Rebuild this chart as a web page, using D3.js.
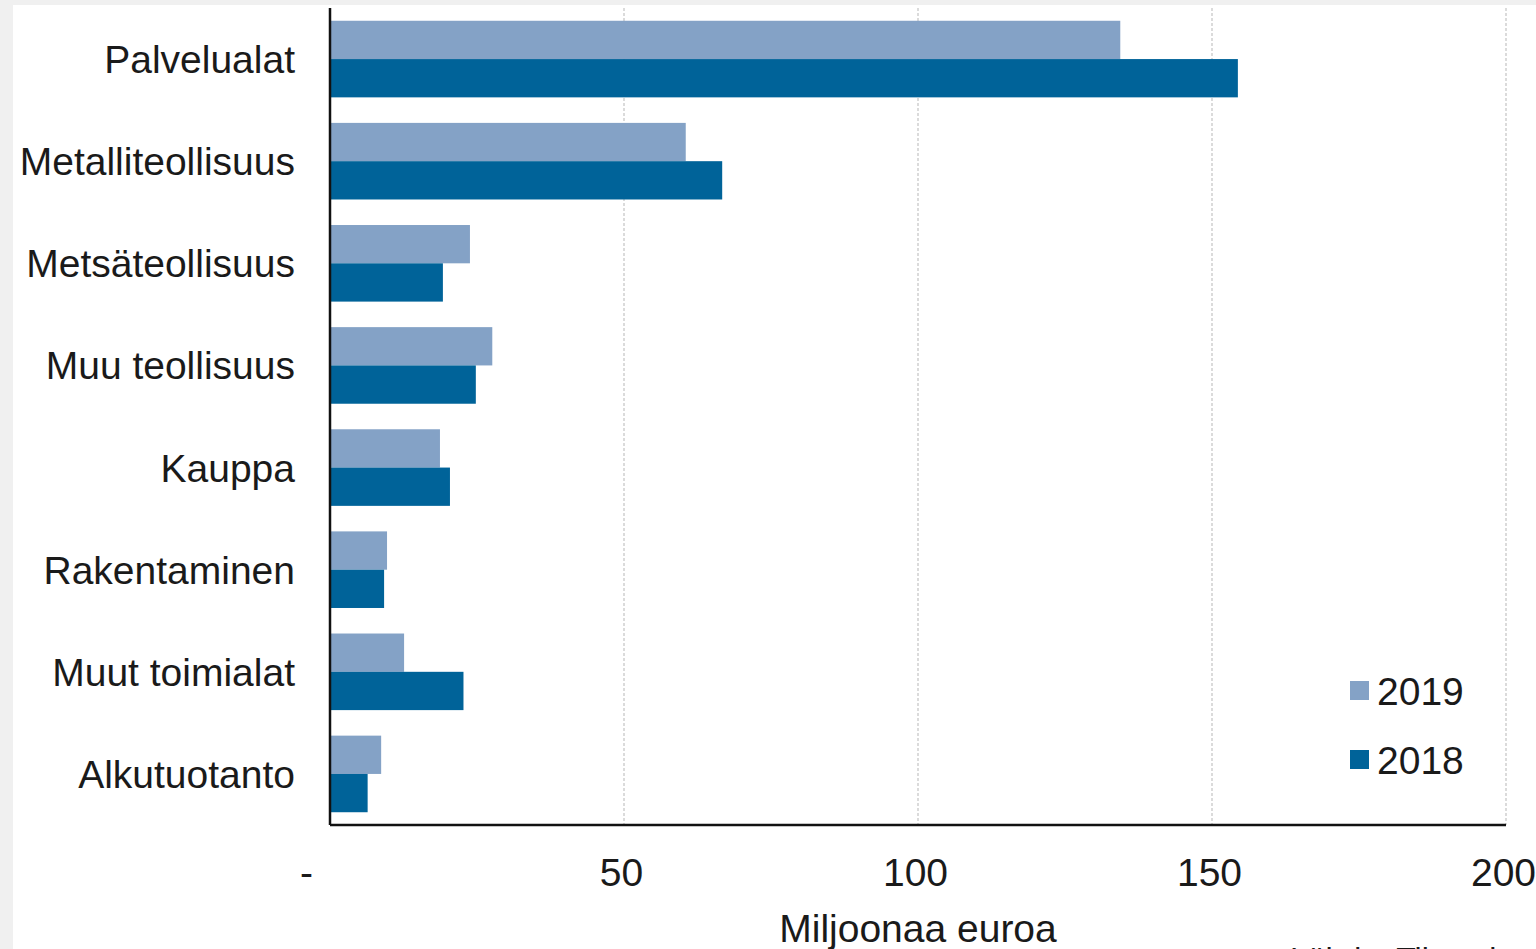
<!DOCTYPE html>
<html>
<head>
<meta charset="utf-8">
<script src="https://cdn.jsdelivr.net/npm/d3@7"></script>
<style>
	body { margin: 0; background: #f0f0f0; }
	svg { display: block; font-family: 'Liberation Sans', Arial, sans-serif; }
</style>
</head>
<body>
<svg width="1536" height="949"></svg>
<script>
// data
let categories = ['Palvelualat', 'Metalliteollisuus', 'Metsäteollisuus', 'Muu teollisuus',
	'Kauppa', 'Rakentaminen', 'Muut toimialat', 'Alkutuotanto'];
let values2019 = [134.4, 60.5, 23.8, 27.6, 18.7, 9.7, 12.6, 8.7];
let values2018 = [154.4, 66.7, 19.2, 24.8, 20.4, 9.2, 22.7, 6.4];
let seriesNames = ['2019', '2018'];
let xTicks = [0, 50, 100, 150, 200];

let colors = { '2019': '#84a2c6', '2018': '#006399' };

let svg = d3.select('svg');

// white panel
svg.append('rect')
	.attr('x', 13)
	.attr('y', 5)
	.attr('width', 1536 - 13)
	.attr('height', 949 - 5)
	.attr('fill', '#fff');

let plotLeft = 330, plotRight = 1506, plotTop = 8, plotBottom = 825;

let x = d3.scaleLinear()
	.domain([0, 200])
	.range([plotLeft, plotRight]);

let y = d3.scaleBand()
	.domain(categories)
	.range([plotTop, plotBottom])
	.paddingInner(0.25)
	.paddingOuter(0.125);

let ySub = d3.scaleBand()
	.domain(seriesNames)
	.range([0, y.bandwidth()]);

// gridlines
svg.append('g')
	.selectAll('line')
	.data(xTicks.slice(1))
	.enter()
	.append('line')
	.attr('x1', d => x(d))
	.attr('x2', d => x(d))
	.attr('y1', plotTop)
	.attr('y2', plotBottom)
	.attr('stroke', '#cfcfcf')
	.attr('stroke-width', 1.5)
	.attr('stroke-dasharray', '3,2');

// bars
let rows = categories.map((c, i) => ({ cat: c, '2019': values2019[i], '2018': values2018[i] }));

let groups = svg.append('g')
	.selectAll('g')
	.data(rows)
	.enter()
	.append('g')
	.attr('transform', d => 'translate(0,' + y(d.cat) + ')');

groups.selectAll('rect')
	.data(d => seriesNames.map(s => ({ s: s, v: d[s] })))
	.enter()
	.append('rect')
	.attr('x', x(0))
	.attr('y', d => ySub(d.s))
	.attr('width', d => x(d.v) - x(0))
	.attr('height', ySub.bandwidth())
	.attr('fill', d => colors[d.s]);

// x axis
let xAxis = d3.axisBottom(x)
	.tickValues(xTicks)
	.tickSize(0)
	.tickPadding(0)
	.tickFormat(d => d === 0 ? '-' : d);

let gx = svg.append('g')
	.attr('transform', 'translate(0,' + plotBottom + ')')
	.call(xAxis);

gx.select('.domain').remove();
gx.selectAll('text')
	.attr('y', 61)
	.attr('dy', 0)
	.attr('dx', d => d === 0 ? -24 : -3)
	.style('font-size', '39px')
	.style('fill', '#1a1a1a');

// y axis labels
let yAxis = d3.axisLeft(y)
	.tickSize(0)
	.tickPadding(35);

let gy = svg.append('g')
	.attr('transform', 'translate(' + plotLeft + ',0)')
	.call(yAxis);

gy.select('.domain').remove();
gy.selectAll('text')
	.attr('dy', '0.36em')
	.style('font-size', '39px')
	.style('fill', '#1a1a1a');

// axis lines
svg.append('line')
	.attr('x1', plotLeft)
	.attr('x2', plotLeft)
	.attr('y1', plotTop)
	.attr('y2', plotBottom)
	.attr('stroke', '#111')
	.attr('stroke-width', 2.5);

svg.append('line')
	.attr('x1', plotLeft)
	.attr('x2', plotRight)
	.attr('y1', plotBottom)
	.attr('y2', plotBottom)
	.attr('stroke', '#111')
	.attr('stroke-width', 2.5);

// axis title
svg.append('text')
	.attr('x', (plotLeft + plotRight) / 2)
	.attr('y', 942)
	.attr('text-anchor', 'middle')
	.style('font-size', '39px')
	.style('fill', '#1a1a1a')
	.text('Miljoonaa euroa');

// legend
let legend = svg.append('g')
	.selectAll('g')
	.data(seriesNames)
	.enter()
	.append('g')
	.attr('transform', (d, i) => 'translate(1350,' + (691 + i * 69) + ')');

legend.append('rect')
	.attr('x', 0)
	.attr('y', -10)
	.attr('width', 19)
	.attr('height', 19)
	.attr('fill', d => colors[d]);

legend.append('text')
	.attr('x', 27)
	.attr('y', 0)
	.attr('dy', '0.36em')
	.style('font-size', '39px')
	.style('fill', '#1a1a1a')
	.text(d => d);

// source note, cut off at the bottom edge as in the original
svg.append('text')
	.attr('x', 1290)
	.attr('y', 970)
	.style('font-size', '32px')
	.style('fill', '#1a1a1a')
	.text('Lähde: Tilastokeskus');
</script>
</body>
</html>
